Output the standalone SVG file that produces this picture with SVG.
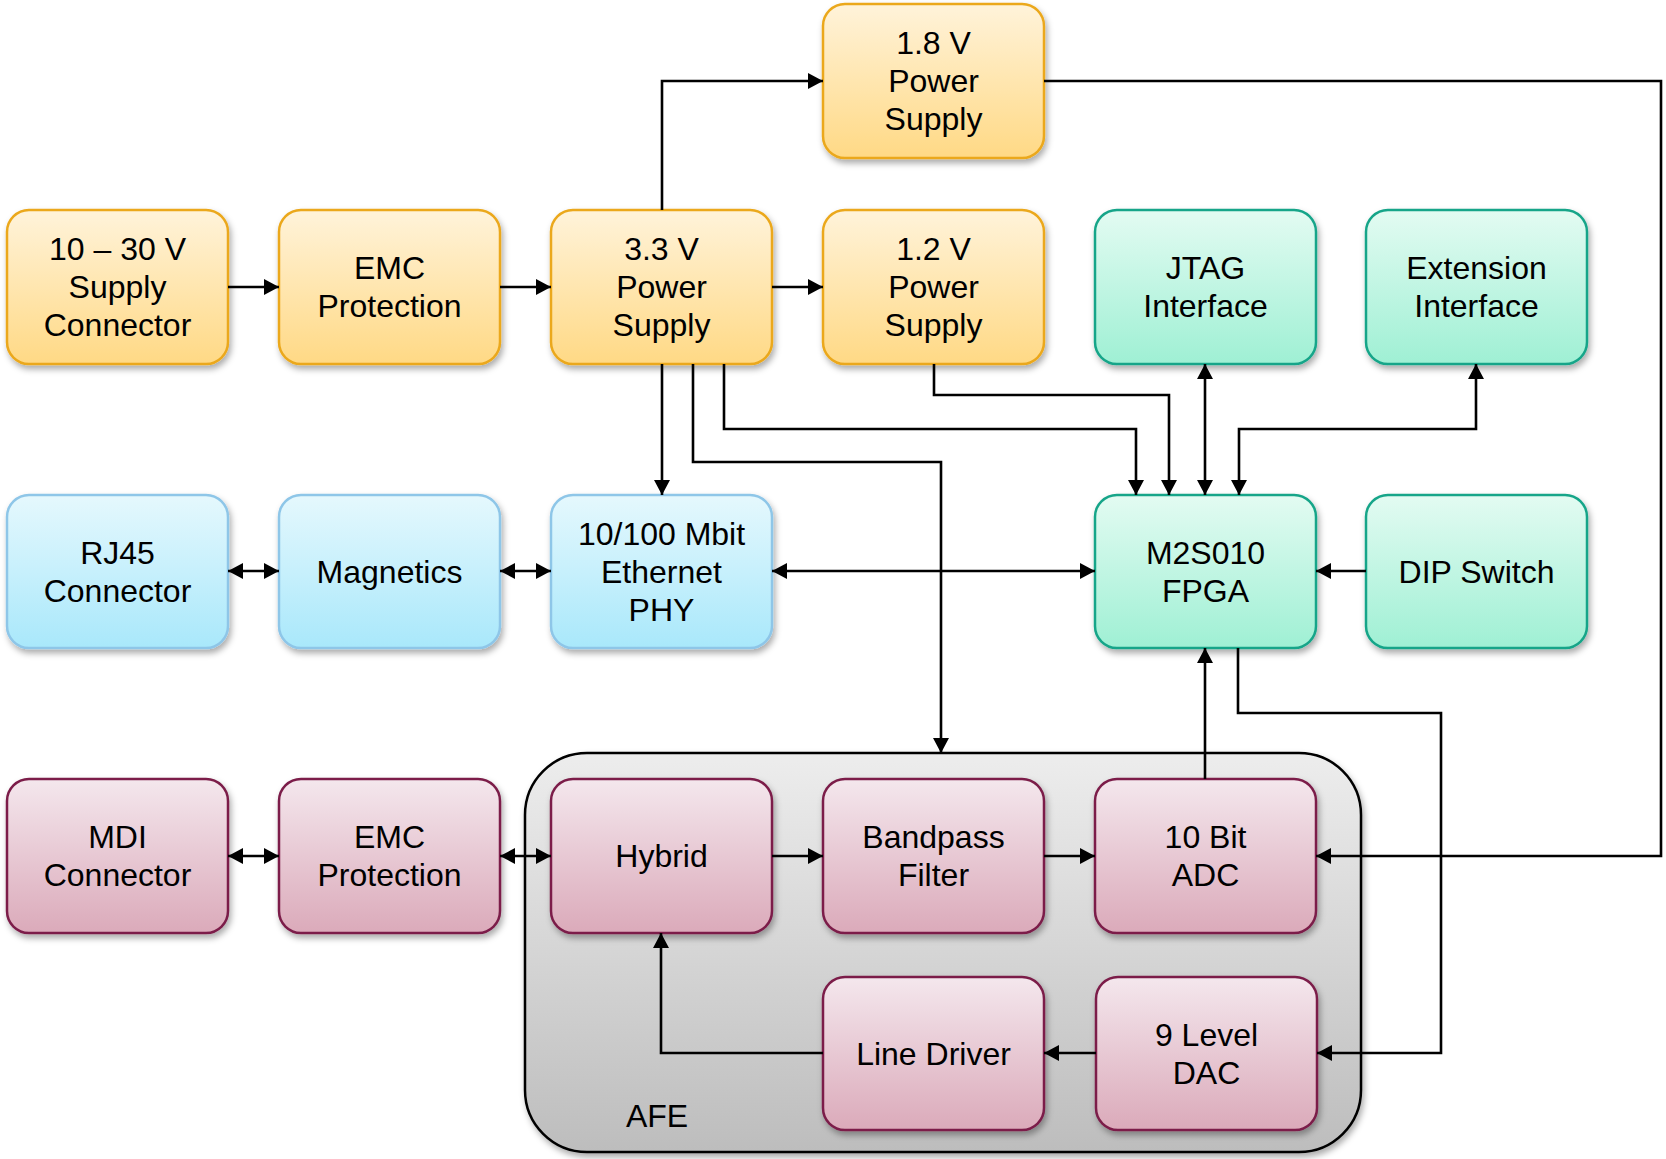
<svg xmlns="http://www.w3.org/2000/svg" width="1666" height="1159" viewBox="0 0 1666 1159">
  <defs>
    <linearGradient id="gOrange" x1="0" y1="0" x2="0" y2="1">
      <stop offset="0" stop-color="#FFF3DA"/>
      <stop offset="1" stop-color="#FFD985"/>
    </linearGradient>
    <linearGradient id="gBlue" x1="0" y1="0" x2="0" y2="1">
      <stop offset="0" stop-color="#E5F8FD"/>
      <stop offset="1" stop-color="#A9E8FB"/>
    </linearGradient>
    <linearGradient id="gGreen" x1="0" y1="0" x2="0" y2="1">
      <stop offset="0" stop-color="#E3FBF2"/>
      <stop offset="1" stop-color="#9FF0D4"/>
    </linearGradient>
    <linearGradient id="gMaroon" x1="0" y1="0" x2="0" y2="1">
      <stop offset="0" stop-color="#F4E7ED"/>
      <stop offset="1" stop-color="#DBAABA"/>
    </linearGradient>
    <linearGradient id="gGrey" x1="0" y1="0" x2="0" y2="1">
      <stop offset="0" stop-color="#EDEDED"/>
      <stop offset="1" stop-color="#BDBDBD"/>
    </linearGradient>
    <filter id="shadow" x="-10%" y="-10%" width="125%" height="130%">
      <feDropShadow dx="2" dy="4" stdDeviation="3" flood-color="#000" flood-opacity="0.33"/>
    </filter>
    <marker id="arrow" markerUnits="userSpaceOnUse" markerWidth="15" markerHeight="16" refX="15" refY="8" orient="auto-start-reverse">
      <path d="M0,0 L15,8 L0,16 z" fill="#000"/>
    </marker>
  </defs>
  <style>
    .box { stroke-width: 2.5; filter: url(#shadow); }
    .orange { fill: url(#gOrange); stroke: #EBA81C; }
    .blue { fill: url(#gBlue); stroke: #8EC6E8; }
    .green { fill: url(#gGreen); stroke: #18A589; }
    .maroon { fill: url(#gMaroon); stroke: #7B1F4A; }
    .label { font-family: "Liberation Sans", Arial, sans-serif; font-size: 32px; fill: #000; text-anchor: middle; }
    .wire { fill: none; stroke: #000; stroke-width: 2.6; }
    .one { marker-end: url(#arrow); }
    .two { marker-start: url(#arrow); marker-end: url(#arrow); }
  </style>

  <rect width="1666" height="1159" fill="#FFFFFF"/>

  <!-- analog front end container -->
  <g id="afe">
    <rect x="525" y="753" width="836" height="399" rx="62" fill="url(#gGrey)" stroke="#000" stroke-width="2.5" filter="url(#shadow)"/>
    <text class="label" x="657" y="1127">AFE</text>
  </g>

  <!-- power supply chain -->
  <g id="supply-connector">
    <rect class="box orange" x="7" y="210" width="221" height="154" rx="22"/>
    <text class="label" x="117.5" y="260">10 – 30 V</text>
    <text class="label" x="117.5" y="298">Supply</text>
    <text class="label" x="117.5" y="336">Connector</text>
  </g>
  <g id="emc-power">
    <rect class="box orange" x="279" y="210" width="221" height="154" rx="22"/>
    <text class="label" x="389.5" y="279">EMC</text>
    <text class="label" x="389.5" y="317">Protection</text>
  </g>
  <g id="ps-3v3">
    <rect class="box orange" x="551" y="210" width="221" height="154" rx="22"/>
    <text class="label" x="661.5" y="260">3.3 V</text>
    <text class="label" x="661.5" y="298">Power</text>
    <text class="label" x="661.5" y="336">Supply</text>
  </g>
  <g id="ps-1v2">
    <rect class="box orange" x="823" y="210" width="221" height="154" rx="22"/>
    <text class="label" x="933.5" y="260">1.2 V</text>
    <text class="label" x="933.5" y="298">Power</text>
    <text class="label" x="933.5" y="336">Supply</text>
  </g>
  <g id="ps-1v8">
    <rect class="box orange" x="823" y="4" width="221" height="154" rx="22"/>
    <text class="label" x="933.5" y="54">1.8 V</text>
    <text class="label" x="933.5" y="92">Power</text>
    <text class="label" x="933.5" y="130">Supply</text>
  </g>

  <!-- FPGA and peripherals -->
  <g id="jtag">
    <rect class="box green" x="1095" y="210" width="221" height="154" rx="22"/>
    <text class="label" x="1205.5" y="279">JTAG</text>
    <text class="label" x="1205.5" y="317">Interface</text>
  </g>
  <g id="extension">
    <rect class="box green" x="1366" y="210" width="221" height="154" rx="22"/>
    <text class="label" x="1476.5" y="279">Extension</text>
    <text class="label" x="1476.5" y="317">Interface</text>
  </g>
  <g id="fpga">
    <rect class="box green" x="1095" y="495" width="221" height="153" rx="22"/>
    <text class="label" x="1205.5" y="564">M2S010</text>
    <text class="label" x="1205.5" y="602">FPGA</text>
  </g>
  <g id="dip-switch">
    <rect class="box green" x="1366" y="495" width="221" height="153" rx="22"/>
    <text class="label" x="1476.5" y="583">DIP Switch</text>
  </g>

  <!-- Ethernet side -->
  <g id="rj45">
    <rect class="box blue" x="7" y="495" width="221" height="153" rx="22"/>
    <text class="label" x="117.5" y="564">RJ45</text>
    <text class="label" x="117.5" y="602">Connector</text>
  </g>
  <g id="magnetics">
    <rect class="box blue" x="279" y="495" width="221" height="153" rx="22"/>
    <text class="label" x="389.5" y="583">Magnetics</text>
  </g>
  <g id="phy">
    <rect class="box blue" x="551" y="495" width="221" height="153" rx="22"/>
    <text class="label" x="661.5" y="545">10/100 Mbit</text>
    <text class="label" x="661.5" y="583">Ethernet</text>
    <text class="label" x="661.5" y="621">PHY</text>
  </g>

  <!-- MDI line side -->
  <g id="mdi">
    <rect class="box maroon" x="7" y="779" width="221" height="154" rx="22"/>
    <text class="label" x="117.5" y="848">MDI</text>
    <text class="label" x="117.5" y="886">Connector</text>
  </g>
  <g id="emc-line">
    <rect class="box maroon" x="279" y="779" width="221" height="154" rx="22"/>
    <text class="label" x="389.5" y="848">EMC</text>
    <text class="label" x="389.5" y="886">Protection</text>
  </g>
  <g id="hybrid">
    <rect class="box maroon" x="551" y="779" width="221" height="154" rx="22"/>
    <text class="label" x="661.5" y="867">Hybrid</text>
  </g>
  <g id="bandpass">
    <rect class="box maroon" x="823" y="779" width="221" height="154" rx="22"/>
    <text class="label" x="933.5" y="848">Bandpass</text>
    <text class="label" x="933.5" y="886">Filter</text>
  </g>
  <g id="adc">
    <rect class="box maroon" x="1095" y="779" width="221" height="154" rx="22"/>
    <text class="label" x="1205.5" y="848">10 Bit</text>
    <text class="label" x="1205.5" y="886">ADC</text>
  </g>
  <g id="line-driver">
    <rect class="box maroon" x="823" y="977" width="221" height="153" rx="22"/>
    <text class="label" x="933.5" y="1065">Line Driver</text>
  </g>
  <g id="dac">
    <rect class="box maroon" x="1096" y="977" width="221" height="153" rx="22"/>
    <text class="label" x="1206.5" y="1046">9 Level</text>
    <text class="label" x="1206.5" y="1084">DAC</text>
  </g>

  <!-- connectors -->
  <g id="connectors">
    <path class="wire one" d="M228,287 H279"/>
    <path class="wire one" d="M500,287 H551"/>
    <path class="wire one" d="M772,287 H823"/>
    <path class="wire one" d="M662,210 V81 H823"/>
    <path class="wire one" d="M662,364 V495"/>
    <path class="wire one" d="M693,364 V462 H941 V753"/>
    <path class="wire one" d="M724,364 V429 H1136 V495"/>
    <path class="wire one" d="M934,364 V395 H1169 V495"/>
    <path class="wire two" d="M1205,364 V495"/>
    <path class="wire two" d="M1239,495 V429 H1476 V364"/>
    <path class="wire one" d="M1044,81 H1661 V856 H1316"/>
    <path class="wire two" d="M228,571 H279"/>
    <path class="wire two" d="M500,571 H551"/>
    <path class="wire two" d="M772,571 H1095"/>
    <path class="wire one" d="M1366,571 H1316"/>
    <path class="wire one" d="M1205,779 V648"/>
    <path class="wire one" d="M1238,648 V713 H1441 V1053 H1317"/>
    <path class="wire two" d="M228,856 H279"/>
    <path class="wire two" d="M500,856 H551"/>
    <path class="wire one" d="M772,856 H823"/>
    <path class="wire one" d="M1044,856 H1095"/>
    <path class="wire one" d="M1096,1053 H1044"/>
    <path class="wire one" d="M823,1053 H661 V933"/>
  </g>
</svg>
